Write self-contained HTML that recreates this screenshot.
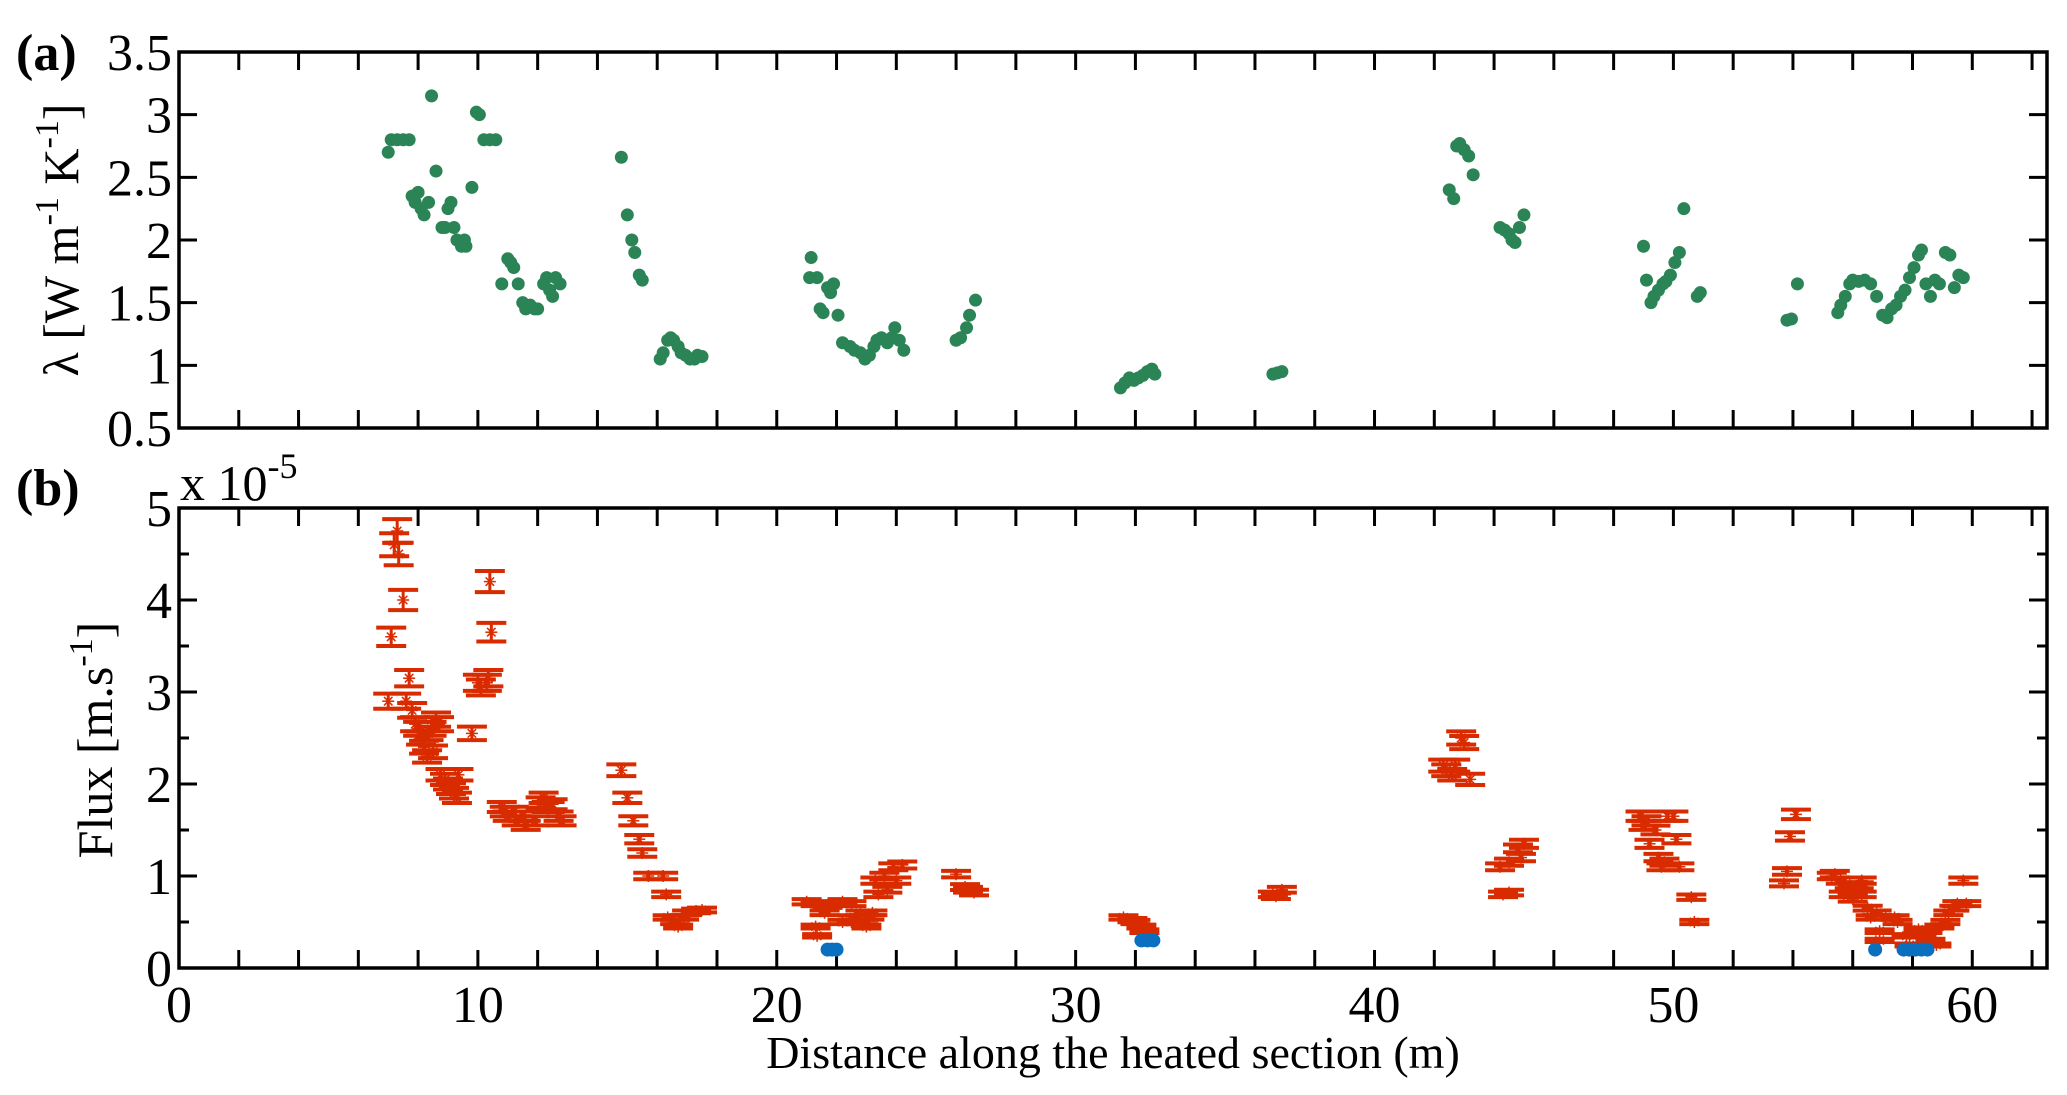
<!DOCTYPE html>
<html><head><meta charset="utf-8"><style>
body{margin:0;background:#fff}
svg{display:block}
svg text, svg tspan{font-family:"Liberation Serif","Times New Roman",serif;fill:#000}
</style></head><body>
<svg id="chart" width="2067" height="1095" viewBox="0 0 2067 1095" xmlns="http://www.w3.org/2000/svg" font-family="Liberation Serif, Times New Roman, serif">
<g id="axes"></g>
<g id="marks"></g>
<text x="16" y="70" font-size="52" font-weight="bold">(a)</text>
<text x="16" y="505" font-size="52" font-weight="bold">(b)</text>
<text x="180" y="500" font-size="50">x 10<tspan font-size="36" dy="-22">-5</tspan></text>
<text transform="translate(78,240) rotate(-90)" text-anchor="middle" font-size="50">λ [W m<tspan font-size="34" dy="-20">-1</tspan><tspan dy="20"> K</tspan><tspan font-size="34" dy="-20">-1</tspan><tspan dy="20">]</tspan></text>
<text transform="translate(112,740) rotate(-90)" text-anchor="middle" font-size="50">Flux [m.s<tspan font-size="34" dy="-20">-1</tspan><tspan dy="20">]</tspan></text>
<text x="1113" y="1068" text-anchor="middle" font-size="46">Distance along the heated section (m)</text>
</svg>
<script>
const lamX=[7.0,7.1,7.3,7.5,7.7,7.8,7.9,8.0,8.1,8.2,8.35,8.45,8.6,8.8,8.9,9.0,9.1,9.2,9.3,9.45,9.55,9.6,9.8,9.95,10.05,10.2,10.4,10.6,10.8,11.0,11.1,11.2,11.35,11.5,11.6,11.75,11.9,12.0,12.2,12.3,12.4,12.5,12.6,12.75,14.8,15.0,15.15,15.25,15.4,15.5,16.1,16.2,16.35,16.45,16.55,16.7,16.8,16.95,17.1,17.25,17.35,17.5,21.1,21.15,21.35,21.45,21.55,21.7,21.8,21.9,22.05,22.2,22.45,22.6,22.8,22.95,23.1,23.25,23.35,23.5,23.7,23.85,23.95,24.1,24.25,26.0,26.15,26.35,26.45,26.65,31.5,31.65,31.8,31.95,32.1,32.25,32.4,32.55,32.65,36.6,36.75,36.9,42.5,42.65,42.75,42.85,43.0,43.15,43.3,44.2,44.35,44.5,44.6,44.7,44.85,45.0,49.0,49.1,49.25,49.35,49.5,49.65,49.75,49.9,50.05,50.2,50.35,50.8,50.9,53.8,53.95,54.15,55.5,55.6,55.75,55.9,56.0,56.2,56.4,56.6,56.8,57.0,57.15,57.3,57.45,57.6,57.75,57.9,58.05,58.2,58.3,58.45,58.6,58.75,58.9,59.1,59.25,59.4,59.55,59.7];
const lamY=[2.7,2.8,2.8,2.8,2.8,2.35,2.3,2.38,2.25,2.2,2.3,3.15,2.55,2.1,2.1,2.25,2.3,2.1,2.0,1.95,2.0,1.95,2.42,3.02,3.0,2.8,2.8,2.8,1.65,1.85,1.82,1.78,1.65,1.5,1.45,1.48,1.45,1.45,1.65,1.7,1.6,1.55,1.7,1.65,2.66,2.2,2.0,1.9,1.72,1.68,1.05,1.1,1.2,1.22,1.2,1.15,1.1,1.08,1.05,1.05,1.08,1.07,1.7,1.86,1.7,1.45,1.42,1.62,1.58,1.65,1.4,1.18,1.15,1.12,1.1,1.05,1.08,1.15,1.2,1.22,1.18,1.22,1.3,1.2,1.12,1.2,1.22,1.3,1.4,1.52,0.82,0.86,0.9,0.88,0.9,0.92,0.95,0.97,0.93,0.93,0.94,0.95,2.4,2.33,2.75,2.77,2.72,2.67,2.52,2.1,2.08,2.05,2.0,1.98,2.1,2.2,1.95,1.68,1.5,1.55,1.6,1.65,1.67,1.72,1.82,1.9,2.25,1.55,1.58,1.36,1.37,1.65,1.42,1.48,1.55,1.65,1.68,1.67,1.68,1.65,1.55,1.4,1.38,1.45,1.48,1.55,1.6,1.7,1.78,1.88,1.92,1.65,1.55,1.68,1.65,1.9,1.88,1.62,1.72,1.7];
const fluxX=[7.0,7.1,7.2,7.3,7.35,7.5,7.7,7.6,7.8,7.9,8.0,8.1,8.2,8.3,8.35,8.45,8.5,8.6,8.7,8.75,8.9,9.0,9.1,9.2,9.3,9.35,9.8,10.0,10.1,10.3,10.35,10.4,10.45,10.8,10.9,11.0,11.2,11.3,11.5,11.6,11.9,12.1,12.2,12.3,12.4,12.5,12.7,12.8,14.8,15.0,15.2,15.4,15.5,15.7,16.2,16.3,16.35,16.6,16.7,16.9,17.0,17.3,17.5,21.0,21.3,21.3,21.35,21.6,21.7,22.2,22.2,22.5,22.5,22.6,22.8,22.9,23.0,23.1,23.2,23.3,23.4,23.6,23.7,23.9,24.0,24.2,26.0,26.3,26.4,26.6,31.6,31.9,32.0,32.2,32.3,36.6,36.7,36.9,42.3,42.4,42.6,42.7,42.9,43.0,43.2,44.2,44.3,44.5,44.5,44.8,44.9,45.0,48.9,49.0,49.1,49.2,49.4,49.5,49.6,49.7,49.8,50.0,50.1,50.2,50.6,50.7,53.7,53.8,53.9,54.1,55.3,55.4,55.6,55.7,55.9,56.0,56.0,56.2,56.3,56.3,56.5,56.6,56.8,56.9,56.9,57.1,57.4,57.5,57.8,57.9,58.2,58.3,58.5,58.6,58.8,58.9,59.1,59.2,59.4,59.5,59.7,59.8];
const fluxY=[2.9,3.6,4.6,4.75,4.5,4.0,3.15,2.9,2.8,2.65,2.6,2.5,2.4,2.3,2.55,2.6,2.35,2.7,2.65,2.1,2.05,2.0,1.95,1.9,1.85,2.1,2.55,3.1,3.05,3.1,3.15,4.2,3.65,1.75,1.7,1.65,1.7,1.6,1.65,1.55,1.6,1.8,1.85,1.75,1.75,1.78,1.65,1.6,2.15,1.85,1.6,1.4,1.25,1.0,1.0,0.8,0.55,0.5,0.45,0.55,0.6,0.62,0.63,0.72,0.7,0.45,0.35,0.6,0.68,0.72,0.5,0.7,0.5,0.55,0.6,0.5,0.45,0.55,0.6,0.95,0.8,1.0,0.85,1.1,0.95,1.12,1.02,0.88,0.85,0.82,0.55,0.52,0.5,0.45,0.4,0.8,0.78,0.85,2.2,2.15,2.1,2.2,2.5,2.45,2.05,1.1,0.8,1.15,0.82,1.3,1.2,1.35,1.65,1.55,1.6,1.35,1.5,1.2,1.1,1.15,1.65,1.65,1.4,1.1,0.77,0.5,0.92,1.05,1.43,1.67,1.0,1.02,0.95,0.8,0.9,0.85,0.75,0.9,0.8,0.95,0.65,0.55,0.6,0.4,0.3,0.55,0.55,0.5,0.35,0.25,0.42,0.35,0.4,0.3,0.25,0.45,0.5,0.6,0.65,0.7,0.95,0.7];
const blueX=[21.7,21.85,22.0,32.2,32.4,32.6,56.75,57.7,57.9,58.1,58.3,58.5];
const blueY=[0.2,0.2,0.2,0.3,0.3,0.3,0.2,0.2,0.2,0.2,0.2,0.2];
const xTickLabels=["0","10","20","30","40","50","60"];
const topYTicks=["0.5","1","1.5","2","2.5","3","3.5"];
const botYTicks=["0","1","2","3","4","5"];

const L=179,R=2047,T1=52,B1=428,T2=508,B2=968,XMAX=62.5;
const sx=v=>L+(R-L)*v/XMAX;
const sy1=v=>B1-(B1-T1)*(v-0.5)/3;
const sy2=v=>B2-(B2-T2)*v/5;
const NS="http://www.w3.org/2000/svg";
const FONT="Liberation Serif, Times New Roman, serif";
const axes=document.getElementById('axes'),marks=document.getElementById('marks');
function mk(tag,attrs,parent){const e=document.createElementNS(NS,tag);for(const k in attrs)e.setAttribute(k,attrs[k]);parent.appendChild(e);return e;}
function line(x1,y1,x2,y2,p,c,w){return mk('line',{x1,y1,x2,y2,stroke:c||'#000','stroke-width':w||3},p);}
[[T1,B1,'top-plot-frame'],[T2,B2,'bottom-plot-frame']].forEach(([t,b,n])=>{
  const r=mk('rect',{x:L,y:t,width:R-L,height:b-t,fill:'none',stroke:'#000','stroke-width':3.5},axes);
  
  
  for(let v=2;v<XMAX;v+=2){const x=sx(v);line(x,b,x,b-18,axes);line(x,t,x,t+18,axes);}
});
topYTicks.forEach(s=>{const v=parseFloat(s),y=sy1(v);
  if(v>0.5&&v<3.5){line(L,y,L+18,y,axes);line(R,y,R-18,y,axes);}
  const t=mk('text',{x:172,y:y+18,'text-anchor':'end','font-size':52,'font-family':FONT},axes);t.textContent=s;
  
  
});
botYTicks.forEach(s=>{const v=parseFloat(s),y=sy2(v);
  if(v>0&&v<5){line(L,y,L+18,y,axes);line(R,y,R-18,y,axes);}
  if(v<5){const m=sy2(v+0.5);line(L,m,L+10,m,axes);line(R,m,R-10,m,axes);}
  const t=mk('text',{x:172,y:y+18,'text-anchor':'end','font-size':52,'font-family':FONT},axes);t.textContent=s;
  
  
});
xTickLabels.forEach(s=>{const t=mk('text',{x:sx(parseFloat(s)),y:1022,'text-anchor':'middle','font-size':52,'font-family':FONT},axes);t.textContent=s;
  
  
});
lamX.forEach((x,i)=>{const c=mk('circle',{cx:sx(x),cy:sy1(lamY[i]),r:6.5,fill:'#2b8456'},marks);
  
  
});
const red='#d92b00';
fluxX.forEach((x,i)=>{const v=fluxY[i],e=0.025*v+0.01;
  const g=mk('g',{},marks);
  
  
  const cx=sx(x),yt=sy2(v+e),yb=sy2(v-e),yc=sy2(v);
  line(cx,yt,cx,yb,g,red,3);
  line(cx-15,yt,cx+15,yt,g,red,4);
  line(cx-15,yb,cx+15,yb,g,red,4);
  for(let a=0;a<4;a++){const an=a*Math.PI/4;line(cx-6*Math.cos(an),yc-6*Math.sin(an),cx+6*Math.cos(an),yc+6*Math.sin(an),g,red,1.5);}
});
blueX.forEach((x,i)=>{const c=mk('circle',{cx:sx(x),cy:sy2(blueY[i]),r:7,fill:'#0a6fbf'},marks);
  
  
});
</script>
</body></html>
